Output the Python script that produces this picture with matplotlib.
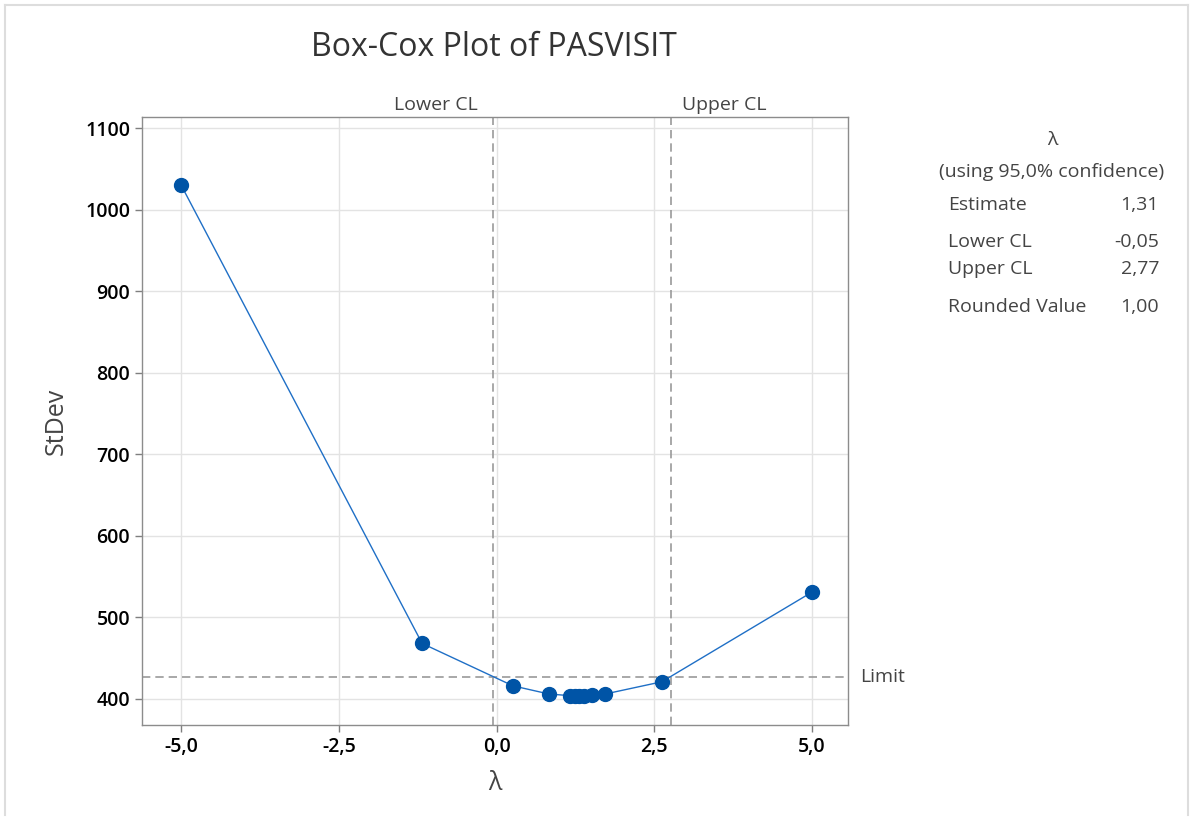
import matplotlib.pyplot as plt
from matplotlib.ticker import FuncFormatter
from matplotlib.lines import Line2D

plt.rcParams['font.family'] = ['Open Sans', 'DejaVu Sans']

# Box-Cox search points (lambda, StDev)
lambdas = [-5.0, -1.18, 0.26, 0.83, 1.16, 1.24, 1.31, 1.38, 1.51, 1.72, 2.62, 5.0]
stdevs = [1030, 468, 416, 406, 404, 404, 404, 404, 405, 406, 421, 531]

lower_cl = -0.05
upper_cl = 2.77
limit = 427

x_ticks = [-5.0, -2.5, 0.0, 2.5, 5.0]
y_ticks = [400, 500, 600, 700, 800, 900, 1000, 1100]

table_rows = [("Estimate", "1,31"), ("Lower CL", "-0,05"), ("Upper CL", "2,77"), ("Rounded Value", "1,00")]
table_y = [205, 242, 269, 307]

W, H = 1200, 827
fig = plt.figure(figsize=(12, 8.27), dpi=100)
ax = fig.add_axes([142 / W, 1 - 725 / H, (848 - 142) / W, (725 - 117) / H])

blue = '#0054a6'
grey_txt = '#444444'

ax.grid(True, color='#e3e3e3', linewidth=1)
ax.set_axisbelow(True)
ax.plot(lambdas, stdevs, color='#1f6fc6', linewidth=1, marker='o', markersize=10,
        markerfacecolor=blue, markeredgecolor=blue, zorder=3)

ax.axvline(lower_cl, color='#999999', linestyle=(0, (5, 3)), linewidth=1.2, zorder=2)
ax.axvline(upper_cl, color='#999999', linestyle=(0, (5, 3)), linewidth=1.2, zorder=2)
ax.axhline(limit, color='#999999', linestyle=(0, (5, 3)), linewidth=1.2, zorder=2)

ax.set_xlim(-5.62, 5.57)
ax.set_ylim(368, 1113.5)
ax.set_xticks(x_ticks)
ax.set_yticks(y_ticks)
ax.xaxis.set_major_formatter(FuncFormatter(lambda v, p: f"{v:.1f}".replace('.', ',')))
ax.tick_params(labelsize=14, colors='#7f7f7f', labelcolor='black', length=5, width=1)
for lab in ax.get_xticklabels() + ax.get_yticklabels():
    lab.set_fontweight('semibold')
for s in ax.spines.values():
    s.set_color('#8c8c8c')
    s.set_linewidth(1)

ax.set_xlabel('λ', fontsize=18, color=grey_txt, labelpad=10)
ax.set_ylabel('StDev', fontsize=18, color=grey_txt, labelpad=12)

# labels on reference lines
ax.text(lower_cl - 0.25, 1.005, 'Lower CL', transform=ax.get_xaxis_transform(),
        ha='right', va='bottom', fontsize=14, color=grey_txt)
ax.text(upper_cl + 0.17, 1.005, 'Upper CL', transform=ax.get_xaxis_transform(),
        ha='left', va='bottom', fontsize=14, color=grey_txt)
ax.text(1.017, limit, 'Limit', transform=ax.get_yaxis_transform(),
        ha='left', va='center', fontsize=14, color=grey_txt)

fig.text(494 / W, 1 - 47 / H, 'Box-Cox Plot of PASVISIT', ha='center', va='center',
         fontsize=23, color='#333333', fontweight='medium')

# summary table
fig.text(1052 / W, 1 - 140 / H, 'λ', ha='center', va='center', fontsize=14, color=grey_txt)
fig.text(1052 / W, 1 - 172 / H, '(using 95,0% confidence)', ha='center', va='center',
         fontsize=14, color=grey_txt)
for (name, val), y in zip(table_rows, table_y):
    fig.text(948 / W, 1 - y / H, name, ha='left', va='center', fontsize=14, color=grey_txt)
    fig.text(1159 / W, 1 - y / H, val, ha='right', va='center', fontsize=14, color=grey_txt)

# light frame around the figure
frame_kw = dict(transform=fig.transFigure, color='#dddddd', linewidth=1.5)
fig.add_artist(Line2D([5 / W, 1188 / W], [1 - 5 / H, 1 - 5 / H], **frame_kw))
fig.add_artist(Line2D([5 / W, 5 / W], [1 - 5 / H, 1 - 815 / H], **frame_kw))
fig.add_artist(Line2D([1188 / W, 1188 / W], [1 - 5 / H, 1 - 815 / H], **frame_kw))

fig.savefig('out.png', dpi=100)
plt.close(fig)
